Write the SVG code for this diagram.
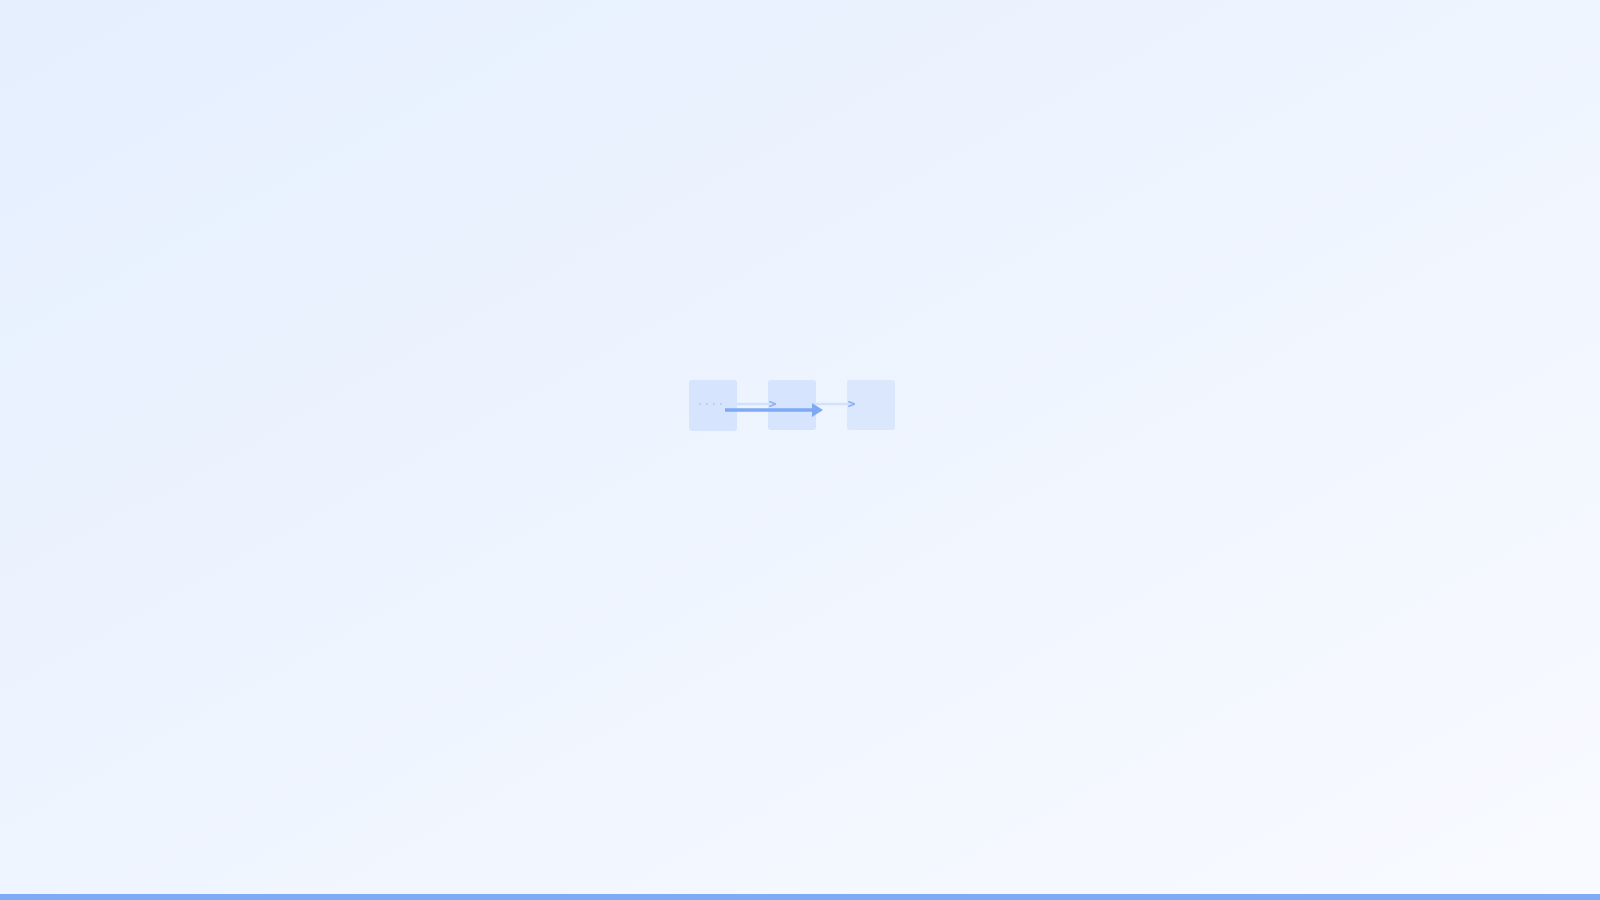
<svg xmlns="http://www.w3.org/2000/svg" width="1600" height="900" viewBox="0 0 1600 900">
<defs>
<linearGradient id="bg" x1="0" y1="0" x2="1" y2="1">
<stop offset="0" stop-color="#e5effe"/>
<stop offset="1" stop-color="#f8faff"/>
</linearGradient>
<marker id="small" viewBox="0 0 10 10" refX="9" refY="5" markerWidth="2.6" markerHeight="2.6" orient="auto">
<path d="M0,1 L10,5 L0,9" fill="none" stroke="#8fb3f4" stroke-width="2.5"/>
</marker>
<marker id="big" viewBox="0 0 11 14" refX="1" refY="7" markerWidth="11" markerHeight="14" markerUnits="userSpaceOnUse" orient="auto">
<path d="M0,0 L11,7 L0,14 Z" fill="#7ea9f5"/>
</marker>
<style>
.node{fill:#d6e4fd;}
.thin{stroke:#d3e2fc;stroke-width:2.5;fill:none;}
</style>
</defs>
<rect x="0" y="0" width="1600" height="900" fill="url(#bg)"/>
<g id="node1"><rect class="node" x="689" y="380" width="48" height="51" rx="3"/>
<line x1="699" y1="404" x2="722" y2="404" stroke="#8fb3f4" stroke-width="1" stroke-dasharray="1.5 5.5"/></g>
<g id="node2"><rect class="node" x="768" y="380" width="48" height="50" rx="3"/></g>
<g id="node3"><rect class="node" x="847" y="380" width="48" height="50" rx="3" opacity="0.85"/></g>
<g id="connectors">
<line class="thin" x1="737" y1="404" x2="775" y2="404" marker-end="url(#small)"/>
<line class="thin" x1="816" y1="404" x2="854" y2="404" marker-end="url(#small)"/>
<line x1="725" y1="410" x2="813" y2="410" stroke="#7ea9f5" stroke-width="3.5" marker-end="url(#big)"/>
</g>
<rect x="0" y="894" width="1600" height="6" fill="#7eaaf6"/>
</svg>
